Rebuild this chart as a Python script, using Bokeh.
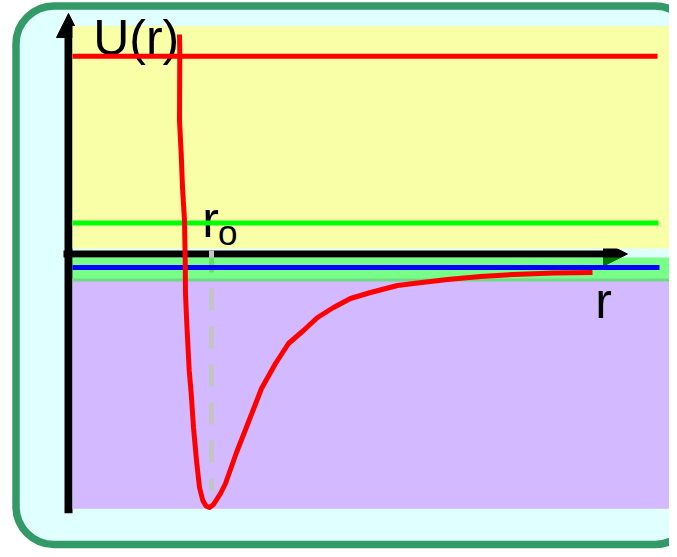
from bokeh.plotting import figure
from bokeh.models import Range1d, BoxAnnotation, Arrow, NormalHead
from bokeh.core.properties import value
from bokeh.embed import file_html
from bokeh.resources import INLINE

# Potential energy curve U(r) (arbitrary units, origin at axes crossing)
r_vals = [111.5, 111.8, 111.5, 113.2, 114.5, 116.5, 117.2, 117.5, 118.5, 119.8,
          121.2, 123.2, 125.5, 128.5, 131.5, 134.8, 138.0, 141.5, 145.5, 152.5,
          157.5, 168.5, 179.5, 193.5, 207.5, 220.5, 235.5, 249.5, 265.5, 282.5,
          302.5, 329.5, 345.5, 379.5, 412.5, 445.5, 485.5, 524.5]
U_vals = [219.5, 200.5, 133.5, 100.5, 66.5, 33.5, -6.5, -39.5, -63.5, -89.5,
          -116.5, -139.5, -173.5, -206.5, -233.5, -246.5, -252.0, -253.5, -250.5, -239.5,
          -229.5, -198.5, -170.5, -134.5, -109.5, -89.5, -76.5, -63.5, -53.5, -44.5,
          -38.5, -31.5, -29.5, -25.5, -22.5, -20.5, -19.0, -18.5]

# equilibrium distance r0 (dashed marker)
r0 = 143.5
r0_U_top = 3.5
r0_U_bottom = -236.5

# horizontal energy levels
level_names = ["high", "middle", "low"]
level_U = [197.8, 31.0, -13.5]
level_r_start = [4.5, 4.5, 4.5]
level_r_end = [589.5, 590.5, 591.5]
level_colors = ["#FF0000", "#00FF00", "#0000FF"]

# shaded energy regions
band_names = ["positive", "bound"]
band_top = [228.0, -24.5]
band_bottom = [5.5, -254.8]
band_colors = ["#F9FFA6", "#D3B9FF"]
near_zero_top, near_zero_bottom = -3.5, -27.5
band_left, band_right = 4.5, 620.0

# axes
r_axis_start, r_axis_end = -4.5, 559.5
U_axis_start, U_axis_end = -259.2, 240.5

# labels
label_text = ["U(r)", "r", "r", "o"]
label_r = [25.2, 527.2, 134.2, 150.1]
label_U = [216.0, -47.0, 34.5, 22.0]
label_size = ["50px", "50px", "50px", "35px"]

p = figure(width=669, height=549, output_backend="svg", toolbar_location=None,
           x_range=Range1d(-67.5, 601.5), y_range=Range1d(-295.5, 253.5),
           min_border=0, outline_line_color=None,
           background_fill_color="white", border_fill_color="white")
p.axis.visible = False
p.grid.visible = False

frame = BoxAnnotation(left=-52, right=625.0, top=248, bottom=-290.5,
                      fill_color="#E0FFFF", fill_alpha=1.0,
                      line_color="#339966", line_width=7.5, line_alpha=1.0,
                      border_radius=38, level="underlay")
p.add_layout(frame)

p.add_layout(Arrow(end=NormalHead(size=24, fill_color="black", line_color="black", line_width=1),
                   x_start=r_axis_start, y_start=0, x_end=r_axis_end, y_end=0,
                   line_color="black", line_width=7, level="underlay"))
p.add_layout(Arrow(end=NormalHead(size=24, fill_color="black", line_color="black", line_width=1),
                   x_start=0.5, y_start=U_axis_start, x_end=0.5, y_end=U_axis_end,
                   line_color="black", line_width=8, level="underlay"))

p.quad(left=[band_left] * len(band_names), right=[band_right] * len(band_names),
       top=band_top, bottom=band_bottom, fill_color=band_colors, line_color=None)

p.line([r0, r0], [r0_U_top, r0_U_bottom], line_color="#C4C4C4", line_width=5,
       line_dash="22 16")

p.quad(left=[band_left], right=[band_right], top=[near_zero_top], bottom=[near_zero_bottom],
       fill_color="#00FF00", fill_alpha=0.47, line_color=None)

p.text(x=label_r, y=label_U, text=label_text, text_font=value("Liberation Sans"),
       text_font_size=label_size, text_color="black",
       text_align="left", text_baseline="alphabetic")

p.segment(x0=level_r_start, y0=level_U, x1=level_r_end, y1=level_U,
          line_color=level_colors, line_width=5)

p.line(r_vals, U_vals, line_color="#FF0000", line_width=5, line_join="round")

open("out.html", "w").write(file_html(p, INLINE))
